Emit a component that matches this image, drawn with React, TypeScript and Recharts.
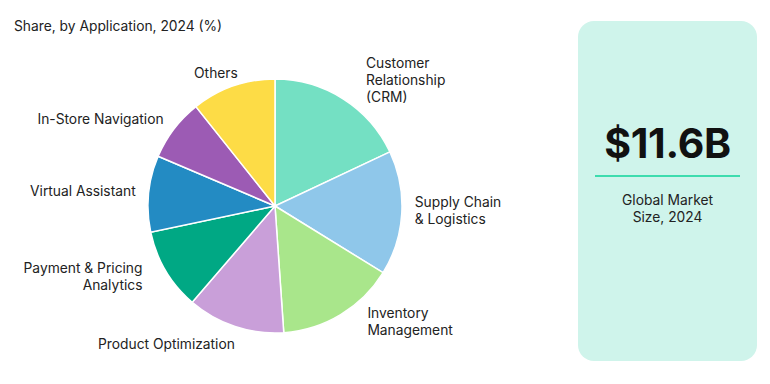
import { PieChart, Pie, Cell } from "recharts";

// share by application, 2024 (%)
const applications = [
    "Customer Relationship (CRM)",
    "Supply Chain & Logistics",
    "Inventory Management",
    "Product Optimization",
    "Payment & Pricing Analytics",
    "Virtual Assistant",
    "In-Store Navigation",
    "Others",
];
const shares = [18.0, 15.8, 15.1, 12.4, 10.4, 9.7, 7.9, 10.7];

// how each label is broken onto lines
const labelLines = [
    ["Customer", "Relationship", "(CRM)"],
    ["Supply Chain", "& Logistics"],
    ["Inventory", "Management"],
    ["Product Optimization"],
    ["Payment & Pricing", "Analytics"],
    ["Virtual Assistant"],
    ["In-Store Navigation"],
    ["Others"],
];

const colors = [
    "#74e0c3",
    "#8fc7ea",
    "#a9e68b",
    "#c99fd9",
    "#00a884",
    "#238bc3",
    "#9c5bb4",
    "#fddc46",
];

// small hand tweaks so labels sit where the original put them (dx outward, dy)
const labelNudge = [
    [16, -8],
    [0, -3],
    [20, -4],
    [-4, 5],
    [12, -1],
    [0, -1],
    [0, -2],
    [-9, -1],
];

const data = applications.map((name, i) => ({ name, value: shares[i] }));

const FONT = "Inter, 'Noto Sans', sans-serif";
const RAD = Math.PI / 180;

function renderLabel(props: any) {
    const { cx, cy, midAngle, outerRadius, index } = props;
    const r = outerRadius + 13;
    const dx = Math.cos(-midAngle * RAD);
    const dy = Math.sin(-midAngle * RAD);
    const right = dx > 0;
    const [nx, ny] = labelNudge[index];
    const x = cx + dx * r + (right ? nx : -nx);
    const y = cy + dy * r + ny;
    const lines = labelLines[index];
    const top = y - ((lines.length - 1) * 17) / 2;
    return (
        <text
            x={x}
            y={top}
            textAnchor={right ? "start" : "end"}
            fill="#222"
            fontSize={13.8}
            fontFamily={FONT}
        >
            {lines.map((l, k) => (
                <tspan key={k} x={x} y={top + k * 17} dominantBaseline="central">
                    {l}
                </tspan>
            ))}
        </text>
    );
}

export default function App() {
    return (
        <div
            style={{
                position: "absolute",
                left: 0,
                top: 0,
                width: 770,
                height: 384,
                background: "#fff",
                fontFamily: FONT,
            }}
        >
            <div
                style={{
                    position: "absolute",
                    left: 14,
                    top: 18,
                    fontSize: 13.8,
                    color: "#222",
                }}
            >
                Share, by Application, 2024 (%)
            </div>

            <div style={{ position: "absolute", left: 0, top: 0 }}>
                <PieChart width={560} height={384} margin={{ top: 0, right: 0, bottom: 0, left: 0 }}>
                    <Pie
                        data={data}
                        dataKey="value"
                        nameKey="name"
                        cx={275}
                        cy={206}
                        outerRadius={127}
                        startAngle={90}
                        endAngle={-270}
                        stroke="#fff"
                        strokeWidth={1.5}
                        label={renderLabel}
                        labelLine={false}
                        isAnimationActive={false}
                    >
                        {data.map((d, i) => (
                            <Cell key={d.name} fill={colors[i]} />
                        ))}
                    </Pie>
                </PieChart>
            </div>

            <div
                style={{
                    position: "absolute",
                    left: 578,
                    top: 21,
                    width: 179,
                    height: 340,
                    borderRadius: 16,
                    background: "#cff4eb",
                    textAlign: "center",
                    color: "#111",
                }}
            >
                <div
                    style={{
                        position: "absolute",
                        left: 0,
                        right: 0,
                        top: 97,
                        fontSize: 41,
                        fontWeight: 700,
                        lineHeight: "50px",
                        letterSpacing: -0.3,
                    }}
                >
                    $11.6B
                </div>
                <div
                    style={{
                        position: "absolute",
                        left: 17,
                        width: 145,
                        top: 154,
                        height: 2,
                        background: "#3ddcae",
                    }}
                />
                <div
                    style={{
                        position: "absolute",
                        left: 0,
                        right: 0,
                        top: 171,
                        fontSize: 13.8,
                        lineHeight: "17px",
                        color: "#222",
                    }}
                >
                    Global Market
                    <br />
                    Size, 2024
                </div>
            </div>
        </div>
    );
}
